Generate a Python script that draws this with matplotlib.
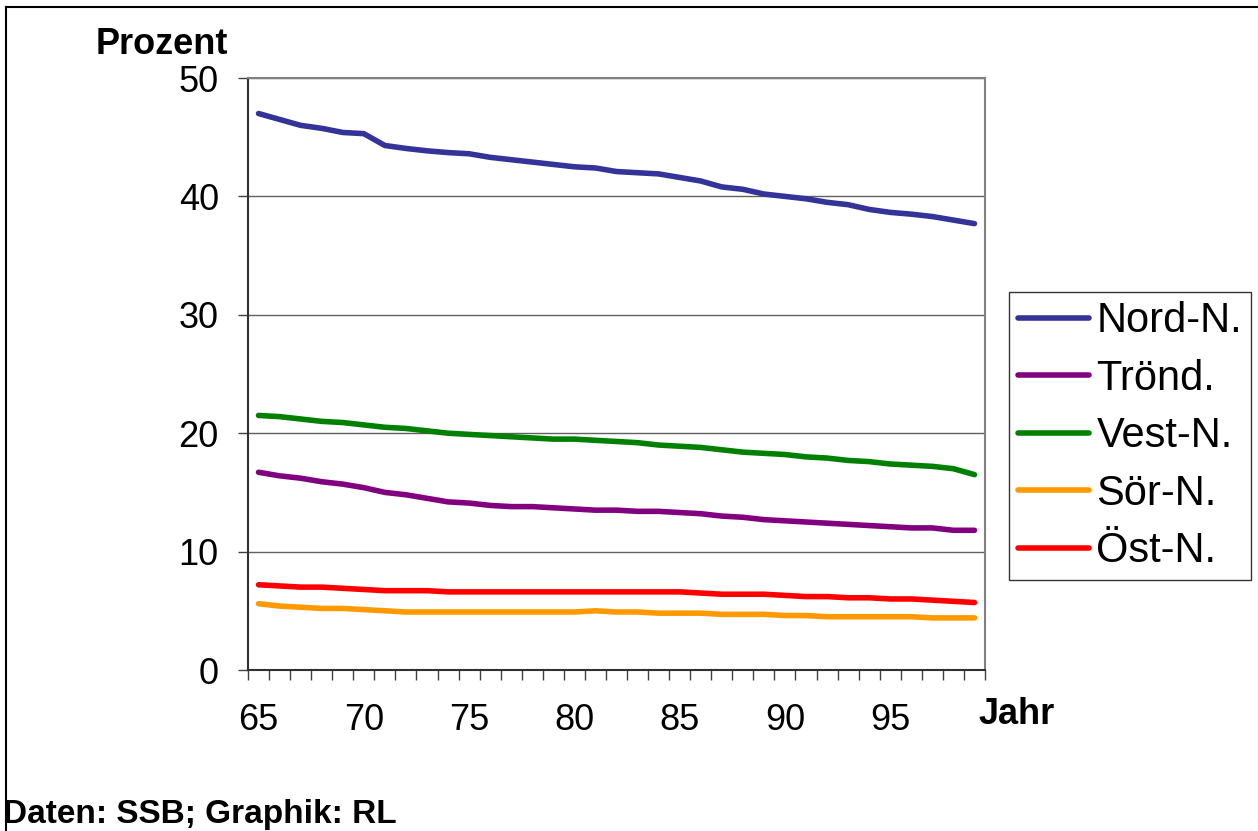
import matplotlib
matplotlib.use("Agg")
import matplotlib.pyplot as plt
from matplotlib.lines import Line2D
from matplotlib.ticker import FixedLocator

plt.rcParams['font.family'] = ['Liberation Sans', 'DejaVu Sans']

years = list(range(65, 100))
tick_labels = ["65", "70", "75", "80", "85", "90", "95"]

nord_n = [47.0, 46.5, 46.0, 45.75, 45.4, 45.3, 44.3, 44.05, 43.85, 43.7, 43.6, 43.3,
          43.1, 42.9, 42.7, 42.5, 42.4, 42.1, 42.0, 41.9, 41.6, 41.3, 40.8, 40.6,
          40.2, 40.0, 39.8, 39.5, 39.3, 38.9, 38.65, 38.5, 38.3, 38.0, 37.7]
trond = [16.7, 16.4, 16.2, 15.9, 15.7, 15.4, 15.0, 14.8, 14.5, 14.2, 14.1, 13.9,
         13.8, 13.8, 13.7, 13.6, 13.5, 13.5, 13.4, 13.4, 13.3, 13.2, 13.0, 12.9,
         12.7, 12.6, 12.5, 12.4, 12.3, 12.2, 12.1, 12.0, 12.0, 11.8, 11.8]
vest_n = [21.5, 21.4, 21.2, 21.0, 20.9, 20.7, 20.5, 20.4, 20.2, 20.0, 19.9, 19.8,
          19.7, 19.6, 19.5, 19.5, 19.4, 19.3, 19.2, 19.0, 18.9, 18.8, 18.6, 18.4,
          18.3, 18.2, 18.0, 17.9, 17.7, 17.6, 17.4, 17.3, 17.2, 17.0, 16.5]
sor_n = [5.6, 5.4, 5.3, 5.2, 5.2, 5.1, 5.0, 4.9, 4.9, 4.9, 4.9, 4.9, 4.9, 4.9,
         4.9, 4.9, 5.0, 4.9, 4.9, 4.8, 4.8, 4.8, 4.7, 4.7, 4.7, 4.6, 4.6, 4.5,
         4.5, 4.5, 4.5, 4.5, 4.4, 4.4, 4.4]
ost_n = [7.2, 7.1, 7.0, 7.0, 6.9, 6.8, 6.7, 6.7, 6.7, 6.6, 6.6, 6.6, 6.6, 6.6,
         6.6, 6.6, 6.6, 6.6, 6.6, 6.6, 6.6, 6.5, 6.4, 6.4, 6.4, 6.3, 6.2, 6.2,
         6.1, 6.1, 6.0, 6.0, 5.9, 5.8, 5.7]

series = [
    ("Nord-N.", nord_n, "#333399"),
    ("Trönd.", trond, "#800080"),
    ("Vest-N.", vest_n, "#008000"),
    ("Sör-N.", sor_n, "#FF9900"),
    ("Öst-N.", ost_n, "#FF0000"),
]

W, H = 1258, 831
fig = plt.figure(figsize=(W / 100, H / 100), dpi=100)
ax = fig.add_axes([248 / W, 1 - 670 / H, (985 - 248) / W, (670 - 78) / H])

x = list(range(len(years)))
handles = []
for name, vals, col in series:
    ln, = ax.plot(x, vals, color=col, lw=4.0, solid_capstyle='round',
                  solid_joinstyle='round', label=name, zorder=3)
    handles.append(ln)

ax.set_xlim(-0.5, len(years) - 0.5)
ax.set_ylim(0, 50)
ax.set_yticks([0, 10, 20, 30, 40, 50])
ax.set_yticklabels(["0", "10", "20", "30", "40", "50"])
ax.yaxis.grid(True, color="#606060", lw=1.0)
ax.set_axisbelow(True)

major_pos = [years.index(int(t)) for t in tick_labels]
ax.set_xticks(major_pos)
ax.set_xticklabels(tick_labels)
ax.xaxis.set_minor_locator(FixedLocator([i - 0.5 for i in range(len(years) + 1)]))
ax.tick_params(axis='x', which='major', length=0, pad=24, labelsize=26)
ax.tick_params(axis='x', which='minor', length=7, width=1.0, color="#404040", direction='out')
ax.tick_params(axis='y', which='major', length=7, width=1.0, color="#404040",
               direction='out', pad=14, labelsize=26)

for s in ['left', 'bottom']:
    ax.spines[s].set_color("#303030")
    ax.spines[s].set_linewidth(1.5)
for s in ['top', 'right']:
    ax.spines[s].set_color("#808080")
    ax.spines[s].set_linewidth(1.5)

leg = fig.legend(handles=handles, loc='upper left',
                 bbox_to_anchor=(1009 / W, 1 - 292 / H), fontsize=30,
                 frameon=True, fancybox=False, edgecolor='black',
                 handlelength=1.7, handletextpad=0.18, labelspacing=0.42,
                 borderpad=0.22, borderaxespad=0)
leg.get_frame().set_linewidth(1.0)

fig.text(162 / W, 1 - 45 / H, "Prozent", ha='center', va='center',
         fontsize=26, fontweight='bold')
fig.text(1017 / W, 1 - 715 / H, "Jahr", ha='center', va='center',
         fontsize=26, fontweight='bold')
fig.text(3 / W, 1 - 815 / H, "Daten: SSB; Graphik: RL", ha='left', va='center',
         fontsize=24, fontweight='bold')

# outer frame lines
fig.add_artist(Line2D([6 / W, 6 / W], [0, 1 - 7 / H], transform=fig.transFigure,
                      color='black', lw=1.5))
fig.add_artist(Line2D([6 / W, 1], [1 - 7 / H, 1 - 7 / H], transform=fig.transFigure,
                      color='black', lw=1.5))

fig.savefig("out.png", dpi=100)
